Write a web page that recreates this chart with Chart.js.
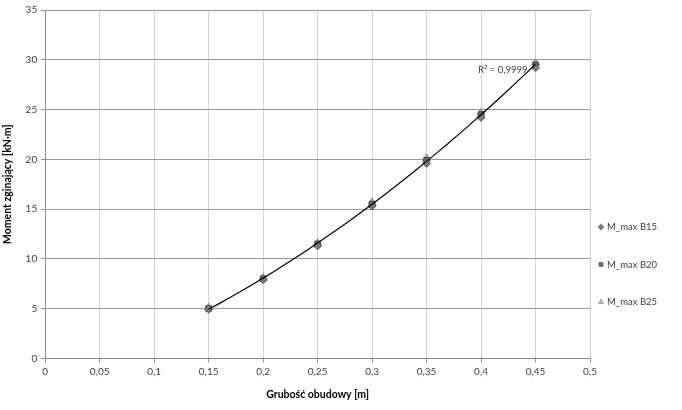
<!DOCTYPE html>
<html>
<head>
<meta charset="utf-8">
<script src="https://cdn.jsdelivr.net/npm/chart.js@4"></script>
<style>
  html, body { margin: 0; padding: 0; background: #fff; }
  #wrap { width: 682px; height: 410px; position: relative; }
</style>
</head>
<body>
<div id="wrap"><canvas id="momentChart"></canvas></div>
<script>
// grubość obudowy [m]
const thickness = [0.15, 0.2, 0.25, 0.3, 0.35, 0.4, 0.45];
// moment zginający [kN·m]
const mB15 = [4.95, 7.9, 11.3, 15.3, 19.6, 24.2, 29.2];
const mB20 = [5.0, 8.0, 11.5, 15.5, 19.9, 24.5, 29.5];
const mB25 = [5.1, 8.1, 11.6, 15.7, 20.1, 24.7, 29.7];
const seriesNames = ['M_max B15', 'M_max B20', 'M_max B25'];
const r2Label = 'R² = 0,9999';

const FONT = 'Lato, "Open Sans", sans-serif';

// quadratic trendline (least squares) on the B20 series
function polyFit2(xs, ys) {
    let n = xs.length, sx = 0, sx2 = 0, sx3 = 0, sx4 = 0, sy = 0, sxy = 0, sx2y = 0;
    for (let i = 0; i < n; i++) {
        const x = xs[i], y = ys[i];
        sx += x; sx2 += x * x; sx3 += x * x * x; sx4 += x * x * x * x;
        sy += y; sxy += x * y; sx2y += x * x * y;
    }
    const m = [[n, sx, sx2, sy], [sx, sx2, sx3, sxy], [sx2, sx3, sx4, sx2y]];
    for (let c = 0; c < 3; c++) {
        for (let r = c + 1; r < 3; r++) {
            const f = m[r][c] / m[c][c];
            for (let k = c; k < 4; k++) m[r][k] -= f * m[c][k];
        }
    }
    const a = [0, 0, 0];
    for (let r = 2; r >= 0; r--) {
        let s = m[r][3];
        for (let k = r + 1; k < 3; k++) s -= m[r][k] * a[k];
        a[r] = s / m[r][r];
    }
    return a;
}
const coef = polyFit2(thickness, mB20);
const trend = [];
for (let i = 0; i <= 30; i++) {
    const x = thickness[0] + (thickness[thickness.length - 1] - thickness[0]) * i / 30;
    trend.push({ x: x, y: coef[0] + coef[1] * x + coef[2] * x * x });
}

const toPoints = ys => thickness.map((x, i) => ({ x: x, y: ys[i] }));
const fmt = v => String(Number(v.toFixed(2))).replace('.', ',');

const markerStyles = [
    { pointStyle: 'rectRot', color: '#7a7a7a', border: '#5f5f5f', radius: 4 },
    { pointStyle: 'rect', color: '#6a6a6a', border: '#4a4a4a', radius: 4 },
    { pointStyle: 'triangle', color: '#b0b0b0', border: '#959595', radius: 4.5 }
];

const extras = {
    id: 'extras',
    afterDatasetsDraw(chart) {
        const { ctx, scales } = chart;
        // R² label next to the last point
        ctx.save();
        ctx.fillStyle = '#404040';
        ctx.font = '9.5px ' + FONT;
        ctx.textAlign = 'right';
        ctx.textBaseline = 'middle';
        const px = scales.x.getPixelForValue(0.45) - 8;
        const py = scales.y.getPixelForValue(29.0);
        ctx.fillText(r2Label, px, py);
        ctx.restore();

        // legend on the right
        ctx.save();
        const lx = 601, ly0 = 227, gap = 37.5;
        seriesNames.forEach((name, i) => {
            const st = markerStyles[i];
            const y = ly0 + i * gap;
            ctx.fillStyle = st.color;
            ctx.strokeStyle = st.color;
            Chart.helpers.drawPoint(ctx, { pointStyle: st.pointStyle, radius: st.radius - 0.6, borderWidth: 0 }, lx, y);
            ctx.fillStyle = '#404040';
            ctx.font = '9.5px ' + FONT;
            ctx.textAlign = 'left';
            ctx.textBaseline = 'middle';
            ctx.fillText(name, lx + 6, y);
        });
        ctx.restore();
    }
};

const datasets = [mB15, mB20, mB25].map((ys, i) => ({
    label: seriesNames[i],
    data: toPoints(ys),
    showLine: false,
    pointStyle: markerStyles[i].pointStyle,
    pointRadius: markerStyles[i].radius,
    backgroundColor: markerStyles[i].color,
    borderColor: markerStyles[i].border,
    borderWidth: 1,
    order: 2
}));
datasets.push({
    label: 'trend',
    data: trend,
    showLine: true,
    pointRadius: 0,
    borderColor: '#000',
    borderWidth: 1.2,
    tension: 0,
    order: 1
});

new Chart(document.getElementById('momentChart'), {
    type: 'scatter',
    data: { datasets: datasets },
    options: {
        responsive: true,
        maintainAspectRatio: false,
        animation: false,
        layout: { padding: { top: 4, right: 92, bottom: 9, left: 1 } },
        plugins: {
            legend: { display: false },
            tooltip: { enabled: false }
        },
        scales: {
            x: {
                type: 'linear',
                min: 0, max: 0.5,
                ticks: {
                    stepSize: 0.05,
                    color: '#404040',
                    font: { family: FONT, size: 10 },
                    padding: 3,
                    callback: v => fmt(v)
                },
                grid: { color: '#d4d4d4', tickColor: '#8a8a8a', tickLength: 4, lineWidth: 1 },
                border: { color: '#8a8a8a', width: 1 },
                title: {
                    display: true,
                    text: 'Grubość obudowy [m]',
                    color: '#000',
                    font: { family: FONT, size: 10.5, weight: 'bold' },
                    padding: { top: 8, bottom: 0 }
                }
            },
            y: {
                min: 0, max: 35,
                ticks: {
                    stepSize: 5,
                    color: '#404040',
                    font: { family: FONT, size: 10 },
                    padding: 4
                },
                grid: { color: '#9a9a9a', tickColor: '#8a8a8a', tickLength: 4, lineWidth: 1 },
                border: { color: '#8a8a8a', width: 1 },
                title: {
                    display: true,
                    text: 'Moment zginający [kN·m]',
                    color: '#000',
                    font: { family: FONT, size: 10.5, weight: 'bold' },
                    padding: { top: 0, bottom: 8 }
                }
            }
        }
    },
    plugins: [extras]
});
</script>
</body>
</html>
